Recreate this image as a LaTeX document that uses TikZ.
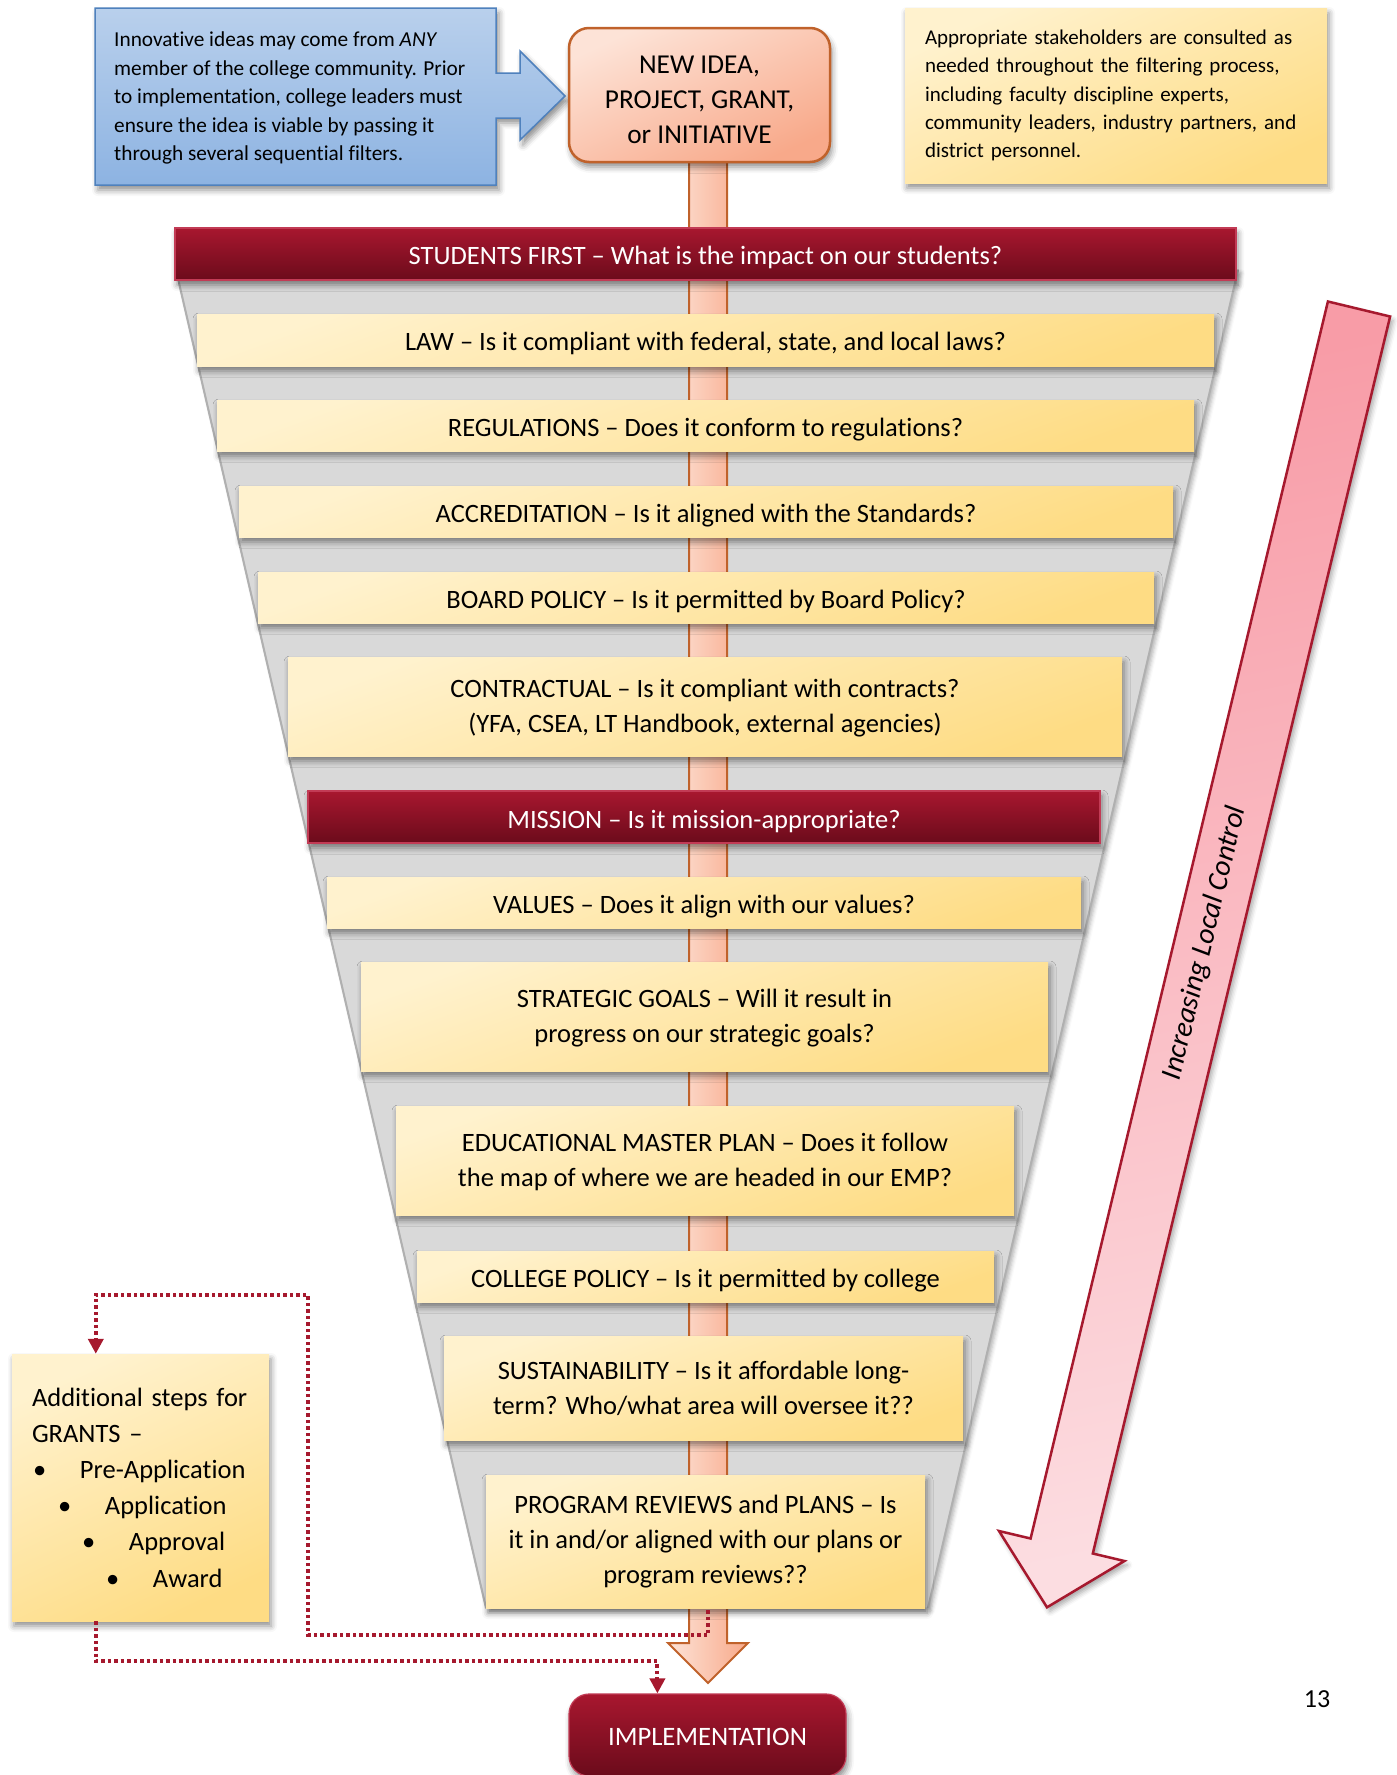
\documentclass[tikz,border=0pt]{standalone}
\usepackage{fontspec}
\setmainfont{Carlito}[Ligatures=NoCommon]
\usetikzlibrary{shadows.blur,calc,arrows.meta}
\definecolor{ylight}{HTML}{FFF2CE}
\definecolor{ydark}{HTML}{FEDC84}
\definecolor{rtop}{HTML}{A8172F}
\definecolor{rbot}{HTML}{6B0B1B}
\definecolor{redline}{HTML}{C23B55}
\definecolor{dotred}{HTML}{A6192E}
\definecolor{btop}{HTML}{B9D0EC}
\definecolor{bbot}{HTML}{8DB3E2}
\definecolor{bline}{HTML}{4F81BD}
\definecolor{otop}{HTML}{FDE3D7}
\definecolor{obot}{HTML}{F8A98A}
\definecolor{oline}{HTML}{C0622B}
\definecolor{ptop}{HTML}{F89CA7}
\definecolor{pbot}{HTML}{FCDDE1}
\definecolor{funnelgray}{HTML}{D9D9D9}
\definecolor{funneledge}{HTML}{B0B0B0}
\newcommand\barfont{\fontsize{26.5}{35}\selectfont}
\newcommand\grantfont{\fontsize{26.5}{36.2}\selectfont}
\newcommand\liftone{\rule{0pt}{26pt}}
\newcommand\liftmany{\rule{0pt}{22pt}}
\begin{document}
\begin{tikzpicture}[x=1pt,y=-1pt,
  softshadow/.style={blur shadow={shadow xshift=2pt, shadow yshift=-5pt, shadow blur radius=6pt, shadow opacity=45}},
  ybox/.style={softshadow, top color=ylight, bottom color=ydark, shading angle=20,
    inner sep=0pt, align=center, font=\barfont, text=black},
  rbox/.style={softshadow, top color=rtop, bottom color=rbot, draw=redline, line width=1.2pt,
    inner sep=0pt, align=center, font=\barfont, text=white},
  dots/.style={draw=dotred, line width=4pt, dash pattern=on 3.5pt off 3pt,
    -{Triangle[width=15pt,length=15pt]}},
]
\useasboundingbox (0,0) rectangle (1397,1775);

% funnel
\draw[funnelgray!90!black, line width=1.5pt, fill=funnelgray,
  blur shadow={shadow xshift=3pt, shadow yshift=-3pt, shadow blur radius=4pt, shadow opacity=30}]
  (176,270) -- (1238,270) -- (928,1608) -- (486,1608) -- cycle;
\draw[funneledge, line width=2pt] (176,270) -- (486,1608);
\draw[funneledge, line width=2pt] (1238,270) -- (928,1608);

% pipe arrow (connector from new idea to implementation)
\coordinate (pipetop) at (708,160);
\coordinate (pipetip) at (708,1683);
\draw[draw=oline, line width=2pt, left color=otop, right color=obot]
  ($(pipetop)+(-19,0)$) -- ($(pipetop)+(19,0)$) -- ($(pipetip)+(19,-40)$) -- ($(pipetip)+(40,-40)$)
  -- (pipetip) -- ($(pipetip)+(-40,-40)$) -- ($(pipetip)+(-19,-40)$) -- cycle;

% blue callout
\draw[bline, line width=1.5pt, top color=btop, bottom color=bbot,
  blur shadow={shadow xshift=3pt, shadow yshift=-5pt, shadow blur radius=6pt, shadow opacity=45}]
  (95,8) -- (496,8) -- (496,73) -- (520,73) -- (520,51) -- (565,96) -- (520,140)
  -- (520,118) -- (496,118) -- (496,185) -- (95,185) -- cycle;
\node[anchor=west, align=left, font=\fontsize{21.3}{28.5}\selectfont, inner sep=0pt] (intro) at (114,98)
  {Innovative ideas may come from \textit{ANY}\\member of the college community. Prior\\to implementation, college leaders must\\ensure the idea is viable by passing it\\through several sequential filters.};

% new idea
\node[softshadow, draw=oline, line width=2.5pt, rounded corners=20pt,
  top color=otop, bottom color=obot, shading angle=25,
  minimum width=261pt, minimum height=134pt, align=center, inner sep=0pt,
  font=\fontsize{27.3}{35}\selectfont] (newidea) at (699.5,95)
  {\rule{0pt}{27pt}NEW IDEA,\\PROJECT, GRANT,\\or INITIATIVE};

% stakeholders box
\node[softshadow, top color=ylight, bottom color=ydark, shading angle=25,
  minimum width=422pt, minimum height=175pt, inner xsep=20pt, inner ysep=0pt,
  text width=382pt, align=left, font=\fontsize{21}{28.3}\selectfont] (stake) at (1116,95.5)
  {Appropriate stakeholders are consulted as\\needed throughout the filtering process,\\including faculty discipline experts,\\community leaders, industry partners, and\\district personnel.};

% filter bars
\node[rbox, minimum width=1061pt, minimum height=52pt] (students) at (705.5,254)
  {\liftone STUDENTS FIRST -- What is the impact on our students?};
\node[ybox, minimum width=1017pt, minimum height=52pt] (law) at (705.5,340)
  {\liftone LAW -- Is it compliant with federal, state, and local laws?};
\node[ybox, minimum width=977pt, minimum height=51pt] (regs) at (705.5,425.5)
  {\liftone REGULATIONS -- Does it conform to regulations?};
\node[ybox, minimum width=934pt, minimum height=51pt] (accr) at (706,511.5)
  {\liftone ACCREDITATION -- Is it aligned with the Standards?};
\node[ybox, minimum width=896pt, minimum height=51pt] (board) at (706,597.5)
  {\liftone BOARD POLICY -- Is it permitted by Board Policy?};
\node[ybox, minimum width=834pt, minimum height=99pt] (contract) at (705,706.5)
  {\liftmany CONTRACTUAL -- Is it compliant with contracts?\\(YFA, CSEA, LT Handbook, external agencies)};
\node[rbox, minimum width=792pt, minimum height=52pt] (mission) at (704,817)
  {\rule{0pt}{27pt}MISSION -- Is it mission-appropriate?};
\node[ybox, minimum width=754pt, minimum height=51pt] (values) at (704,902.5)
  {\liftone VALUES -- Does it align with our values?};
\node[ybox, minimum width=687pt, minimum height=109pt] (strat) at (704.5,1016.5)
  {\liftmany STRATEGIC GOALS -- Will it result in\\progress on our strategic goals?};
\node[ybox, minimum width=618pt, minimum height=109pt] (emp) at (705,1160.5)
  {\liftmany EDUCATIONAL MASTER PLAN -- Does it follow\\the map of where we are headed in our EMP?};
\node[ybox, minimum width=577pt, minimum height=51pt] (college) at (705.5,1276.5)
  {\liftone COLLEGE POLICY -- Is it permitted by college};
\node[ybox, minimum width=519pt, minimum height=104pt] (sustain) at (703.5,1388)
  {SUSTAINABILITY -- Is it affordable long-\\term? Who/what area will oversee it??};
\node[ybox, minimum width=439pt, minimum height=133pt] (program) at (705.5,1541.5)
  {PROGRAM REVIEWS and PLANS -- Is\\it in and/or aligned with our plans or\\program reviews??};

% grants box
\node[softshadow, top color=ylight, bottom color=ydark, shading angle=25,
  minimum width=257pt, minimum height=267pt, inner xsep=20pt, inner ysep=0pt,
  text width=217pt, align=left, font=\grantfont] (grants) at (140.5,1487.5)
  {Additional steps for\\GRANTS --\\
   \hspace*{1pt}\makebox[47pt][l]{•}Pre-Application\\
   \hspace*{26pt}\makebox[47pt][l]{•}Application\\
   \hspace*{50pt}\makebox[47pt][l]{•}Approval\\
   \hspace*{74pt}\makebox[47pt][l]{•}Award};

% implementation
\node[rbox, rounded corners=20pt, minimum width=277pt, minimum height=82pt,
  font=\fontsize{26.6}{30}\selectfont] (impl) at (707.5,1735) {\rule{0pt}{21pt}IMPLEMENTATION};

% dotted connectors
\coordinate (dstart) at (708,1610);
\draw[dots] (dstart) |- (308,1635) |- ($(grants.north west)+(84,-59)$) -- ($(grants.north west)+(84,0)$);
\draw[dots] ($(grants.south west)+(84,0)$) |- ($(impl.north west)+(89,-32)$) -- ($(impl.north west)+(89,0)$);

% increasing local control arrow
\draw[draw=dotred, line width=2.5pt, top color=ptop, bottom color=pbot, shading angle=12,
  blur shadow={shadow xshift=3pt, shadow yshift=-4pt, shadow blur radius=5pt, shadow opacity=35}]
  (1327.9,301.5) -- (1390.1,316.5) -- (1092.8,1553.5) -- (1124.4,1561) -- (1047,1607.3)
  -- (999,1531) -- (1030.6,1538.5) -- cycle;
\node[rotate=76.5, font=\fontsize{29}{32}\selectfont\itshape, inner sep=0pt] (ctrl) at (1205,943)
  {Increasing Local Control};

% page number
\node[font=\fontsize{26}{30}\selectfont, inner sep=0pt] (pnum) at (1317,1699) {13};
\end{tikzpicture}
\end{document}
